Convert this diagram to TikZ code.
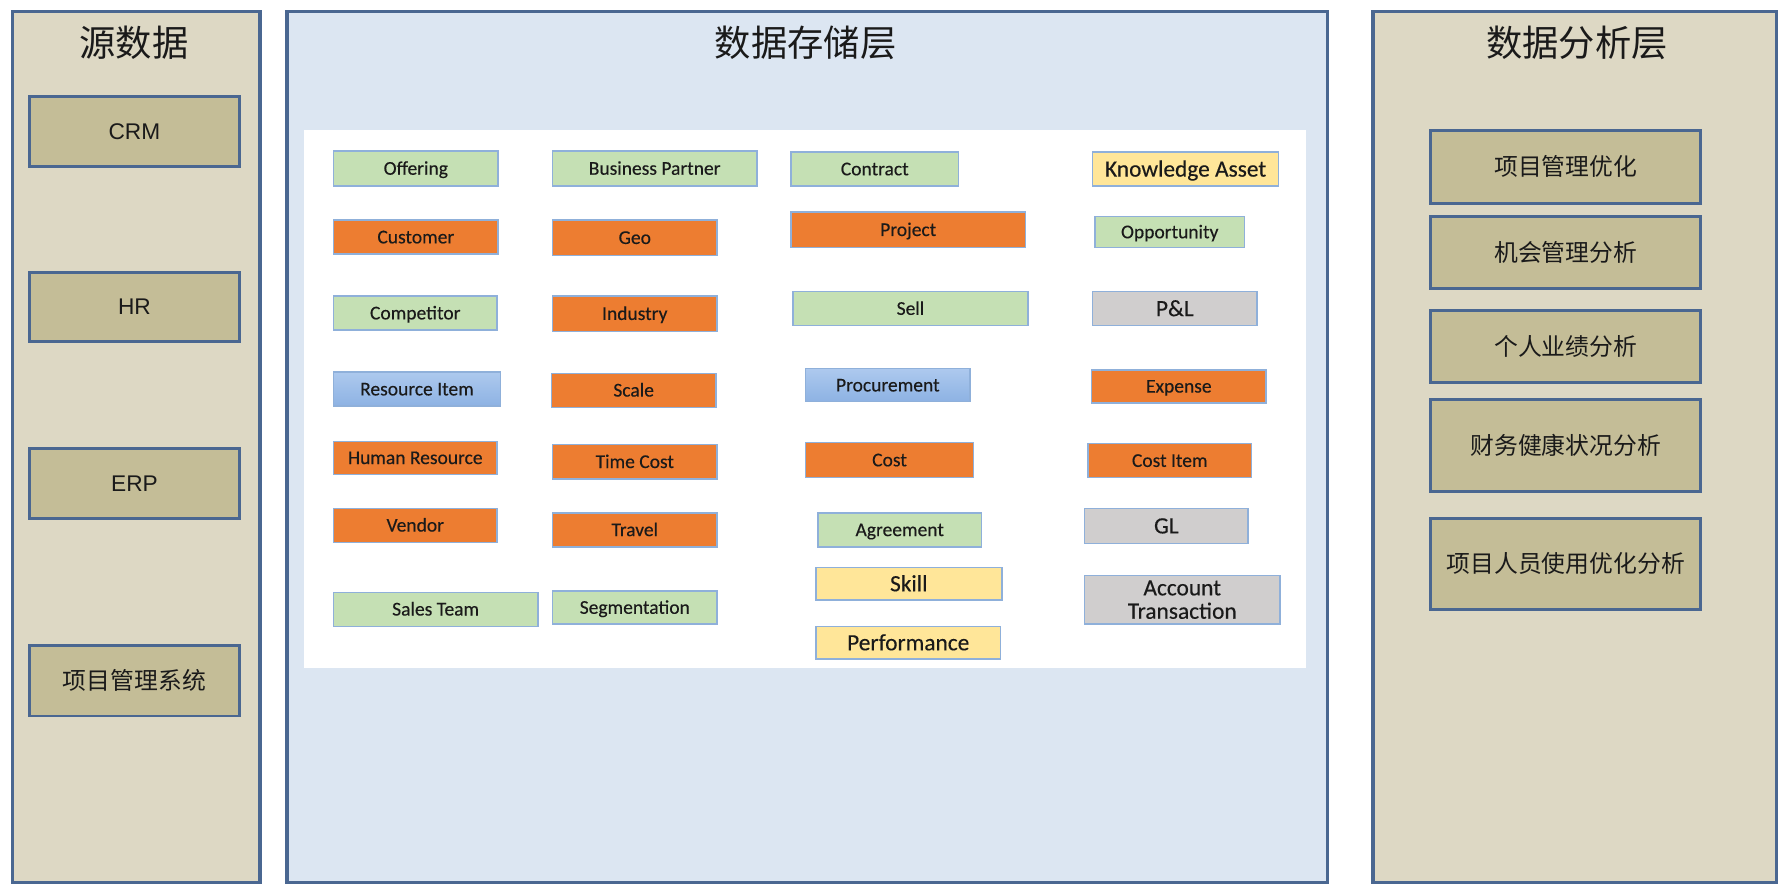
\documentclass[tikz,border=0pt]{standalone}
\usepackage{fontspec}
\newfontfamily\calibri[FakeBold=0.3]{Carlito}
\newfontfamily\arialf{Liberation Sans}
\newfontfamily\cjk{Noto Sans CJK SC}
\definecolor{panelbg}{HTML}{DDD8C4}
\definecolor{srcbg}{HTML}{C4BD97}
\definecolor{border}{HTML}{4A6791}
\definecolor{midbg}{HTML}{DCE6F2}
\definecolor{entline}{HTML}{8FB0DA}
\definecolor{egreen}{HTML}{C5E0B4}
\definecolor{eorange}{HTML}{ED7D31}
\definecolor{eyellow}{HTML}{FFE699}
\definecolor{egray}{HTML}{D0CECE}
\definecolor{eblueT}{HTML}{ADC9EE}
\definecolor{eblueB}{HTML}{8DB2E3}
\definecolor{txt}{HTML}{1A1A1A}
\begin{document}
\begin{tikzpicture}[x=1pt,y=-1pt,
  panel/.style={draw=border, line width=3pt, inner sep=0pt},
  title/.style={font=\cjk\fontsize{32}{36}\selectfont, text=txt, inner sep=0pt},
  srcbox/.style={draw=border, fill=srcbg, line width=2.5pt, inner sep=0pt, text=txt, minimum width=185pt},
  anabox/.style={draw=border, fill=srcbg, line width=2.5pt, inner sep=0pt, text=txt, minimum width=238pt, font=\cjk\fontsize{21}{24}\selectfont},
  entbase/.style={draw=entline, line width=1.3pt, inner sep=0pt, text=txt},
  ent/.style={entbase, font=\calibri\fontsize{17.2}{18}\selectfont, text height=14pt, text depth=3pt},
  entbig/.style={entbase, font=\calibri\fontsize{20.6}{20.6}\selectfont, text height=16.8pt, text depth=3.5pt},
  enttwo/.style={entbase, font=\calibri\fontsize{20.6}{20.6}\selectfont, align=center},
  green/.style={fill=egreen}, orange/.style={fill=eorange}, yellow/.style={fill=eyellow},
  gray/.style={fill=egray}, blue/.style={top color=eblueT, bottom color=eblueB}]
\useasboundingbox (0,0) rectangle (1568,780);
\fill[white] (0,0) rectangle (1568,780);
% panels
\node[panel, fill=panelbg, minimum width=218pt, minimum height=768pt] (lp) at (120,394) {};
\node[panel, fill=midbg, minimum width=917pt, minimum height=768pt] (mp) at (711.5,394) {};
\node[panel, fill=panelbg, minimum width=356pt, minimum height=768pt] (rp) at (1388,394) {};
\node[title] (t1) at (118,38) {源数据};
\node[title] (t2) at (710,38) {数据存储层};
\node[title] (t3) at (1390,38) {数据分析层};
\node[fill=white, minimum width=883pt, minimum height=474pt, inner sep=0pt] (wa) at (709.5,352) {};
% source boxes
\node[srcbox, minimum height=62pt, font=\arialf\fontsize{20}{24}\selectfont] (crm) at (118.5,116) {CRM};
\node[srcbox, minimum height=61pt, font=\arialf\fontsize{20}{24}\selectfont] (hr) at (118.5,270.5) {HR};
\node[srcbox, minimum height=62pt, font=\arialf\fontsize{20}{24}\selectfont] (erp) at (118.5,426) {ERP};
\node[srcbox, minimum height=62pt, font=\cjk\fontsize{21}{24}\selectfont] (pms) at (118.5,600) {项目管理系统};
% analysis boxes
\node[anabox, minimum height=64pt] (a1) at (1380,147) {项目管理优化};
\node[anabox, minimum height=63pt] (a2) at (1380,222.5) {机会管理分析};
\node[anabox, minimum height=63pt] (a3) at (1380,305.5) {个人业绩分析};
\node[anabox, minimum height=81pt] (a4) at (1380,392.5) {财务健康状况分析};
\node[anabox, minimum height=80pt] (a5) at (1380,497) {项目人员使用优化分析};
% entities row 1
\node[ent, green, minimum width=145pt, minimum height=31pt] (offering) at (366.5,148.5) {Offering};
\node[ent, green, minimum width=180pt, minimum height=31pt] (bp) at (577,148.5) {Business Partner};
\node[ent, green, minimum width=148pt, minimum height=30pt] (contract) at (771,149) {Contract};
\node[entbig, yellow, minimum width=164pt, minimum height=30pt] (ka) at (1045,149) {Knowledge Asset};
% row 2
\node[ent, orange, minimum width=145pt, minimum height=30pt] (customer) at (366.5,209) {Customer};
\node[ent, orange, minimum width=145pt, minimum height=31pt] (geo) at (559.5,209.5) {Geo};
\node[ent, orange, minimum width=207pt, minimum height=31pt] (project) at (800.5,202.5) {Project};
\node[ent, green, minimum width=132pt, minimum height=27pt] (opp) at (1031,204.5) {Opportunity};
% row 3
\node[ent, green, minimum width=144pt, minimum height=30pt] (competitor) at (366,276) {Competitor};
\node[ent, orange, minimum width=145pt, minimum height=31pt] (industry) at (559.5,276.5) {Industry};
\node[ent, green, minimum width=207pt, minimum height=30pt] (sell) at (802.5,272) {Sell};
\node[entbig, gray, minimum width=145pt, minimum height=30pt] (pl) at (1035.5,272) {P\&L};
% row 4
\node[ent, blue, minimum width=147pt, minimum height=30pt] (ri) at (367.5,343) {Resource Item};
\node[ent, orange, minimum width=145pt, minimum height=30pt] (scale) at (558.5,344) {Scale};
\node[ent, blue, minimum width=145pt, minimum height=29pt] (proc) at (782.5,339.5) {Procurement};
\node[ent, orange, minimum width=154pt, minimum height=29pt] (expense) at (1039,340.5) {Expense};
% row 5
\node[ent, orange, minimum width=144pt, minimum height=29pt] (hres) at (366,403.5) {Human Resource};
\node[ent, orange, minimum width=145pt, minimum height=30pt] (tc) at (559.5,407) {Time Cost};
\node[ent, orange, minimum width=148pt, minimum height=31pt] (cost) at (784,405.5) {Cost};
\node[ent, orange, minimum width=144pt, minimum height=30pt] (ci) at (1031,406) {Cost Item};
% row 6
\node[ent, orange, minimum width=144pt, minimum height=30pt] (vendor) at (366,463) {Vendor};
\node[ent, orange, minimum width=145pt, minimum height=30pt] (travel) at (559.5,467) {Travel};
\node[ent, green, minimum width=144pt, minimum height=30pt] (agreement) at (793,467) {Agreement};
\node[entbig, gray, minimum width=144pt, minimum height=31pt] (gl) at (1028,463.5) {GL};
% row 7
\node[ent, green, minimum width=180pt, minimum height=30pt] (st) at (384,537) {Sales Team};
\node[ent, green, minimum width=145pt, minimum height=29pt] (seg) at (559.5,535.5) {Segmentation};
\node[entbig, yellow, minimum width=164pt, minimum height=29pt] (skill) at (801,514.5) {Skill};
\node[entbig, yellow, minimum width=163pt, minimum height=29pt] (perf) at (800.5,566.5) {Performance};
\node[enttwo, gray, minimum width=172pt, minimum height=43pt] (at) at (1042,528.5) {Account\\Transaction};
\end{tikzpicture}
\end{document}
